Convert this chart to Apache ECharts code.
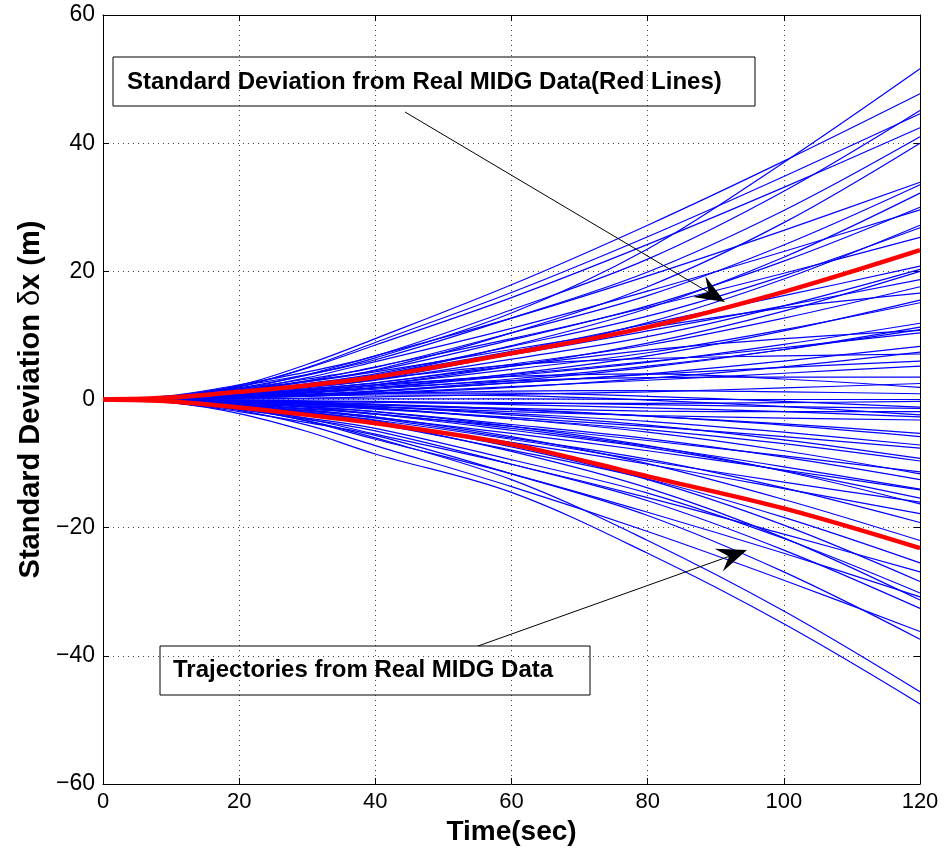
<!DOCTYPE html>
<html>
<head>
<meta charset="utf-8">
<script src="https://cdn.jsdelivr.net/npm/echarts@6/dist/echarts.min.js"></script>
<style>
html,body{margin:0;padding:0;background:#fff;}
#chart{width:946px;height:857px;}
</style>
</head>
<body>
<div id="chart"></div>
<script>
// time samples (sec)
const timeSec = [0, 10, 20, 30, 40, 60, 80, 100, 120];
// axis ticks
const xTicks = [0, 20, 40, 60, 80, 100, 120];
const yTicks = [-60, -40, -20, 0, 20, 40, 60];
// red lines: standard deviation from real MIDG data
const redUpper = [0, 0.3, 1.2, 2.2, 3.5, 7.2, 11.3, 16.8, 23.3];
const redLower = [0, -0.3, -1.25, -2.4, -3.7, -7.0, -12.0, -17.0, -23.2];
// blue lines: trajectories from real MIDG data (values at timeSec)
const blueTrajectories = [
  [0,0.4,1.8,3.8,6.5,13.5,23.5,37.0,51.6],
  [0,0.5,2.2,5.5,9.5,17.9,27.2,37.2,47.7],
  [0,0.6,2.3,4.3,6.8,14.0,21.9,32.5,45.1],
  [0,0.4,2.0,5.0,8.9,16.7,25.4,34.8,44.6],
  [0,0.4,2.0,4.9,8.5,15.9,24.2,33.1,42.4],
  [0,0.5,2.1,3.9,6.2,12.7,19.9,29.5,41.0],
  [0,0.3,1.4,2.8,4.6,10.4,17.6,27.6,40.0],
  [0,0.3,1.6,3.9,6.8,12.7,19.3,26.4,33.9],
  [0,0.4,1.7,3.2,5.0,10.4,16.2,24.1,33.5],
  [0,0.3,1.1,2.3,3.7,8.4,14.2,22.2,32.2],
  [0,0.4,1.5,2.9,4.5,9.3,14.6,21.6,30.0],
  [0,0.3,1.4,3.4,5.9,11.1,16.9,23.1,29.6],
  [0,0.2,1.0,1.9,3.1,7.1,12.0,18.8,27.2],
  [0,0.3,1.3,2.5,4.0,8.3,13.0,19.3,26.8],
  [0,0.3,1.2,2.9,5.1,9.5,14.4,19.7,25.3],
  [0,0.3,1.2,2.4,3.8,7.5,11.8,16.2,20.8],
  [0,0.3,1.0,1.9,3.0,6.3,9.8,14.6,20.3],
  [0,0.2,0.7,1.4,2.3,5.2,8.8,13.8,20.0],
  [0,0.2,0.9,2.2,3.7,7.0,10.7,14.6,18.7],
  [0,0.2,0.9,1.7,2.6,5.5,8.5,12.7,17.6],
  [0,0.4,1.5,2.8,4.3,7.8,11.2,14.3,16.6],
  [0,0.1,0.5,1.1,1.8,4.0,6.8,10.7,15.5],
  [0,0.2,0.8,1.4,2.3,4.7,7.3,10.9,15.1],
  [0,0.3,1.1,2.1,3.2,5.4,6.4,6.8,7.1],
  [0,0.2,0.6,1.1,1.8,3.7,5.8,8.6,11.9],
  [0,0.1,0.4,0.8,1.3,2.9,5.0,7.8,11.3],
  [0,0.1,0.5,1.0,1.6,3.2,5.2,7.8,10.9],
  [0,0.2,0.8,1.6,2.6,5.2,7.7,9.5,10.8],
  [0,0.1,0.5,1.2,2.1,3.9,5.9,8.1,10.4],
  [0,0.1,0.4,0.8,1.2,2.6,4.0,6.0,8.3],
  [0,0.1,0.3,0.5,0.9,1.9,3.3,5.1,7.4],
  [0,0.1,0.4,0.8,1.3,2.6,3.9,5.0,6.0],
  [0,0.1,0.2,0.6,1.0,2.0,3.0,4.1,5.2],
  [0,0.2,0.7,1.2,1.8,2.9,3.4,3.5,3.5],
  [0,0.1,0.1,0.2,0.4,0.8,1.2,1.8,2.5],
  [0,0.2,0.8,1.5,2.3,3.6,4.0,3.2,1.9],
  [0,0.1,0.3,0.6,0.9,1.3,1.4,1.2,0.9],
  [0,0.0,0.1,0.1,0.1,0.1,0.0,0.0,0.0],
  [0,-0.1,-0.2,-0.3,-0.4,-0.6,-0.6,-0.5,-0.3],
  [0,0.1,0.4,0.8,1.0,1.0,0.5,-0.3,-1.2],
  [0,0.0,-0.1,-0.2,-0.3,-0.5,-0.8,-1.1,-1.4],
  [0,-0.1,-0.3,-0.6,-0.9,-1.4,-1.8,-1.9,-1.9],
  [0,0.1,0.3,0.5,0.7,0.6,-0.1,-1.1,-2.4],
  [0,0.0,-0.1,-0.3,-0.4,-0.8,-1.3,-1.9,-2.7],
  [0,-0.1,-0.4,-0.7,-1.1,-1.9,-2.5,-2.9,-3.2],
  [0,-0.1,-0.3,-0.5,-0.8,-1.6,-2.6,-3.8,-5.3],
  [0,-0.1,-0.2,-0.4,-0.7,-1.5,-2.6,-4.0,-5.8],
  [0,-0.1,-0.4,-0.7,-1.1,-2.2,-3.4,-5.1,-7.1],
  [0,-0.2,-0.5,-1.0,-1.5,-2.8,-4.2,-5.8,-7.6],
  [0,-0.1,-0.3,-0.6,-1.1,-2.4,-4.0,-6.3,-9.2],
  [0,-0.1,-0.5,-0.9,-1.4,-3.0,-4.7,-6.9,-9.6],
  [0,-0.1,-0.5,-1.2,-2.3,-4.2,-6.4,-8.8,-11.3],
  [0,-0.1,-0.4,-0.8,-1.3,-3.0,-5.1,-8.0,-11.6],
  [0,-0.2,-0.6,-1.2,-1.9,-3.9,-6.1,-9.0,-12.5],
  [0,-0.2,-0.7,-1.4,-2.2,-4.5,-7.3,-10.5,-14.0],
  [0,-0.1,-0.6,-1.6,-2.8,-5.3,-8.0,-11.0,-14.1],
  [0,-0.2,-0.8,-1.5,-2.3,-4.8,-7.5,-11.1,-15.4],
  [0,-0.3,-1.0,-2.0,-3.2,-6.2,-9.6,-12.9,-16.0],
  [0,-0.1,-0.6,-1.1,-1.9,-4.2,-7.2,-11.2,-16.3],
  [0,-0.2,-0.8,-2.0,-3.6,-6.7,-10.1,-13.9,-17.8],
  [0,-0.2,-1.0,-1.8,-2.9,-6.0,-9.3,-13.8,-19.2],
  [0,-0.2,-0.9,-1.7,-2.7,-5.8,-10.0,-15.6,-22.0],
  [0,-0.3,-1.3,-2.4,-3.8,-7.9,-12.4,-18.4,-25.5],
  [0,-0.3,-1.2,-3.0,-5.4,-10.1,-15.3,-21.0,-26.9],
  [0,-0.2,-1.0,-2.0,-3.3,-7.4,-12.5,-19.6,-28.4],
  [0,-0.4,-1.5,-2.9,-4.5,-9.4,-14.6,-21.7,-30.2],
  [0,-0.3,-1.4,-3.4,-6.2,-11.6,-17.6,-24.0,-30.8],
  [0,-0.3,-1.1,-2.2,-3.6,-8.1,-13.8,-21.6,-31.3],
  [0,-0.4,-1.6,-3.1,-4.9,-10.1,-15.8,-23.5,-32.6],
  [0,-0.4,-1.7,-4.0,-7.2,-13.6,-20.6,-28.2,-36.2],
  [0,-0.5,-1.9,-3.6,-5.6,-11.6,-18.1,-26.9,-37.4],
  [0,-0.3,-1.4,-3.3,-6.0,-12.5,-22.0,-33.0,-45.6],
  [0,-0.5,-2.2,-5.0,-8.5,-14.5,-24.0,-35.0,-47.5]
];
// annotation texts
const note1 = 'Standard Deviation from Real MIDG Data(Red Lines)';
const note2 = 'Trajectories from Real MIDG Data';

const FONT = '"Liberation Sans", Arial, Helvetica, sans-serif';
const pairs = vals => vals.map((v, i) => [timeSec[i], v]);

const series = [];
blueTrajectories.forEach((tr, i) => {
  series.push({
    type: 'line', name: 'traj' + i, data: pairs(tr),
    showSymbol: false, symbol: 'none', smooth: 0.35, silent: true,
    lineStyle: { color: '#0000ff', width: 1.2 }, z: 2
  });
});
[redUpper, redLower].forEach((r, i) => {
  series.push({
    type: 'line', name: 'std' + i, data: pairs(r),
    showSymbol: false, symbol: 'none', smooth: 0.35, silent: true,
    lineStyle: { color: '#ff0000', width: 4.5 }, z: 3
  });
});

function arrowHead(tip, from, len, half, notch) {
  const dx = tip[0] - from[0], dy = tip[1] - from[1];
  const L = Math.hypot(dx, dy), ux = dx / L, uy = dy / L;
  const nx = -uy, ny = ux;
  const bx = tip[0] - len * ux, by = tip[1] - len * uy;
  return [tip, [bx + half * nx, by + half * ny], [tip[0] - notch * ux, tip[1] - notch * uy], [bx - half * nx, by - half * ny]];
}
function shortEnd(tip, from, d) {
  const dx = tip[0] - from[0], dy = tip[1] - from[1];
  const L = Math.hypot(dx, dy);
  return [tip[0] - d * dx / L, tip[1] - d * dy / L];
}

const a1from = [405, 112], a1tip = [725, 302];
const a2from = [478, 646], a2tip = [747, 550];
const a1end = shortEnd(a1tip, a1from, 18), a2end = shortEnd(a2tip, a2from, 18);

const tickFmt = v => (v < 0 ? '\u2212' + Math.abs(v) : String(v));

const chart = echarts.init(document.getElementById('chart'), null, { renderer: 'canvas' });
chart.setOption({
  animation: false,
  backgroundColor: '#fff',
  grid: { left: 103, right: 26, top: 15, bottom: 73, containLabel: false },
  xAxis: [{
    type: 'value', min: xTicks[0], max: xTicks[xTicks.length - 1], interval: 20, position: 'bottom',
    axisLine: { show: true, onZero: false, lineStyle: { color: '#000', width: 1 } },
    axisTick: { show: true, inside: true, length: 6, lineStyle: { color: '#000' } },
    axisLabel: { color: '#000', fontSize: 22, margin: 7, fontFamily: FONT, formatter: tickFmt },
    splitLine: { show: true, lineStyle: { color: '#444', type: [1, 4], width: 1 } },
    name: 'Time(sec)', nameLocation: 'middle', nameGap: 33,
    nameTextStyle: { color: '#000', fontSize: 28, fontWeight: 'bold', fontFamily: FONT }
  }, {
    type: 'value', min: 0, max: 120, interval: 20, position: 'top',
    axisLine: { show: true, onZero: false, lineStyle: { color: '#000', width: 1 } },
    axisTick: { show: true, inside: true, length: 6, lineStyle: { color: '#000' } },
    axisLabel: { show: false }, splitLine: { show: false }
  }],
  yAxis: [{
    type: 'value', min: yTicks[0], max: yTicks[yTicks.length - 1], interval: 20, position: 'left',
    axisLine: { show: true, onZero: false, lineStyle: { color: '#000', width: 1 } },
    axisTick: { show: true, inside: true, length: 6, lineStyle: { color: '#000' } },
    axisLabel: { color: '#000', fontSize: 23, margin: 8, fontFamily: FONT, formatter: tickFmt },
    splitLine: { show: true, lineStyle: { color: '#444', type: [1, 4], width: 1 } },
    name: '{b|Standard Deviation }{d|\u03b4}{b|x (m)}', nameLocation: 'middle', nameGap: 58,
    nameTextStyle: {
      color: '#000', fontFamily: FONT,
      rich: {
        b: { fontSize: 29, fontWeight: 'bold', fontFamily: FONT, color: '#000' },
        d: { fontSize: 29, fontFamily: FONT, color: '#000' }
      }
    }
  }, {
    type: 'value', min: -60, max: 60, interval: 20, position: 'right',
    axisLine: { show: true, onZero: false, lineStyle: { color: '#000', width: 1 } },
    axisTick: { show: true, inside: true, length: 6, lineStyle: { color: '#000' } },
    axisLabel: { show: false }, splitLine: { show: false }
  }],
  series: series,
  graphic: [
    { type: 'rect', shape: { x: 113, y: 57, width: 642, height: 49 }, style: { fill: 'none', stroke: '#000', lineWidth: 1 }, z: 10 },
    { type: 'text', x: 127, y: 82, style: { text: note1, fill: '#000', font: 'bold 24px ' + FONT, textVerticalAlign: 'middle', verticalAlign: 'middle' }, z: 10 },
    { type: 'rect', shape: { x: 160, y: 646, width: 430, height: 49 }, style: { fill: 'none', stroke: '#000', lineWidth: 1 }, z: 10 },
    { type: 'text', x: 173, y: 670, style: { text: note2, fill: '#000', font: 'bold 24px ' + FONT, textVerticalAlign: 'middle', verticalAlign: 'middle' }, z: 10 },
    { type: 'line', shape: { x1: a1from[0], y1: a1from[1], x2: a1end[0], y2: a1end[1] }, style: { stroke: '#000', lineWidth: 1 }, z: 10 },
    { type: 'polygon', shape: { points: arrowHead(a1tip, a1from, 30, 12, 19) }, style: { fill: '#000' }, z: 10 },
    { type: 'line', shape: { x1: a2from[0], y1: a2from[1], x2: a2end[0], y2: a2end[1] }, style: { stroke: '#000', lineWidth: 1 }, z: 10 },
    { type: 'polygon', shape: { points: arrowHead(a2tip, a2from, 30, 12, 19) }, style: { fill: '#000' }, z: 10 }
  ]
});
</script>
</body>
</html>
